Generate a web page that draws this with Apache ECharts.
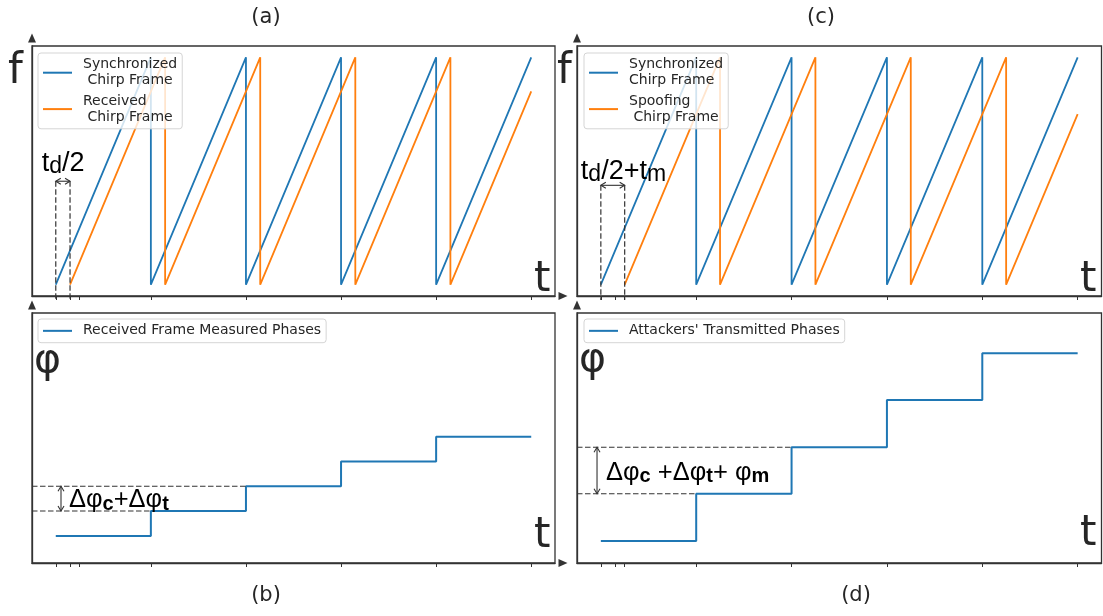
<!DOCTYPE html>
<html><head><meta charset="utf-8">
<script src="https://cdn.jsdelivr.net/npm/echarts@6/dist/echarts.min.js"></script>
<style>html,body{margin:0;padding:0;background:#fff}#c{width:1103px;height:616px}</style>
</head><body><div id="c"></div><script>
// ---- data ----
const tickValues = [0, 0.15, 0.25, 1, 2, 3, 4, 5];
const syncChirp = [[0,0],[1,1],[1,0],[2,1],[2,0],[3,1],[3,0],[4,1],[4,0],[5,1]];
const receivedChirp = [[0.15,0],[1.15,1],[1.15,0],[2.15,1],[2.15,0],[3.15,1],[3.15,0],[4.15,1],[4.15,0],[5,0.85]];
const spoofChirp = [[0.25,0],[1.25,1],[1.25,0],[2.25,1],[2.25,0],[3.25,1],[3.25,0],[4.25,1],[4.25,0],[5,0.75]];
const frameTimes = [0, 1, 2, 3, 4, 5];
const receivedPhases = [1.08, 2.08, 3.07, 4.06, 5.05];
const attackerPhases = [0.88, 2.77, 4.63, 6.52, 8.39];
const panelTitles = ['(a)', '(c)', '(b)', '(d)'];
const seriesNames = ['Synchronized\n Chirp Frame', 'Received\n Chirp Frame', 'Synchronized\nChirp Frame', 'Spoofing\n Chirp Frame', 'Received Frame Measured Phases', "Attackers' Transmitted Phases"];

// ---- style ----
const FONT = 'DejaVu Sans', MATH = 'Liberation Sans';
const INK = '#262626', SPINE = '#333333';
const BLUE = '#1f77b4', ORANGE = '#ff7f0e';
const grids = [
  {left: 32, top: 46, width: 523, height: 250},
  {left: 577, top: 46, width: 524.5, height: 250},
  {left: 32, top: 313, width: 523, height: 250},
  {left: 577, top: 313, width: 524.5, height: 250}
];
const yRanges = [[-0.05, 1.05], [-0.05, 1.05], [0, 10], [0, 10]];
const X_MIN = -0.25, X_MAX = 5.25;

function stepData(phases) {
  return frameTimes.map((t, i) => [t, phases[Math.min(i, phases.length - 1)]]);
}

const chart = echarts.init(document.getElementById('c'), null, {renderer: 'canvas'});

const axisLineStyle = {color: SPINE, width: 1.3};
const xAxes = grids.map((g, i) => ({
  type: 'value', gridIndex: i, min: X_MIN, max: X_MAX,
  axisLine: {show: true, onZero: false, symbol: ['none', 'triangle'], symbolSize: [8, 9], symbolOffset: [0, 8], lineStyle: axisLineStyle},
  axisTick: {show: true, customValues: tickValues, length: 4, inside: false, lineStyle: {color: SPINE, width: 1}},
  axisLabel: {show: false}, splitLine: {show: false}
}));
const yAxes = grids.map((g, i) => ({
  type: 'value', gridIndex: i, min: yRanges[i][0], max: yRanges[i][1],
  axisLine: {show: true, onZero: false, symbol: ['none', 'triangle'], symbolSize: [8, 9], symbolOffset: [0, 8], lineStyle: axisLineStyle},
  axisTick: {show: false}, axisLabel: {show: false}, splitLine: {show: false}
}));

function lineSeries(name, idx, data, color, extra) {
  return Object.assign({
    name: name, type: 'line', xAxisIndex: idx, yAxisIndex: idx, data: data,
    showSymbol: false, symbol: 'none', color: color,
    lineStyle: {color: color, width: 1.8}, silent: true
  }, extra || {});
}

const series = [
  lineSeries(seriesNames[0], 0, syncChirp, BLUE),
  lineSeries(seriesNames[1], 0, receivedChirp, ORANGE),
  lineSeries(seriesNames[2], 1, syncChirp, BLUE),
  lineSeries(seriesNames[3], 1, spoofChirp, ORANGE),
  lineSeries(seriesNames[4], 2, stepData(receivedPhases), BLUE, {step: 'end', lineStyle: {color: BLUE, width: 2}}),
  lineSeries(seriesNames[5], 3, stepData(attackerPhases), BLUE, {step: 'end', lineStyle: {color: BLUE, width: 2}})
];

const legendBase = {
  orient: 'vertical', icon: 'rect', itemWidth: 29, itemHeight: 2, itemGap: 5,
  padding: [4, 5, 4, 5], backgroundColor: 'rgba(255,255,255,0.8)',
  borderColor: '#d5d5d5', borderWidth: 1, borderRadius: 3, selectedMode: false,
  textStyle: {fontFamily: FONT, fontSize: 14, lineHeight: 15.7, color: INK, padding: [0, 0, 0, 6]}
};
const legends = [
  Object.assign({}, legendBase, {data: [seriesNames[0], seriesNames[1]], left: 38, top: 53}),
  Object.assign({}, legendBase, {data: [seriesNames[2], seriesNames[3]], left: 584, top: 53}),
  Object.assign({}, legendBase, {data: [seriesNames[4]], left: 38, top: 319}),
  Object.assign({}, legendBase, {data: [seriesNames[5]], left: 584, top: 319})
];

chart.setOption({
  animation: false,
  backgroundColor: '#ffffff',
  grid: grids.map(g => Object.assign({show: true, borderColor: SPINE, borderWidth: 1.3, backgroundColor: 'transparent'}, g)),
  xAxis: xAxes, yAxis: yAxes, legend: legends, series: series
});

// ---- annotations (anchored through the axes) ----
function px(g, x, y) { return chart.convertToPixel({gridIndex: g}, [x, y]); }
const dash = {stroke: SPINE, lineWidth: 1.2, lineDash: [5.5, 2.5]};
const solid = {stroke: SPINE, lineWidth: 1.1, fill: null};
const g = [];

function seg(p1, p2, style) {
  g.push({type: 'line', shape: {x1: p1[0], y1: p1[1], x2: p2[0], y2: p2[1]}, style: style, z: 50});
}
function doubleArrow(p1, p2) {
  seg(p1, p2, solid);
  const dx = p2[0] - p1[0], dy = p2[1] - p1[1], L = Math.hypot(dx, dy);
  const ux = dx / L, uy = dy / L, nx = -uy, ny = ux, a = 5, w = 3;
  [[p1, 1], [p2, -1]].forEach(([p, s]) => {
    g.push({type: 'polyline', z: 50, shape: {points: [
      [p[0] + s * ux * a + nx * w, p[1] + s * uy * a + ny * w], p,
      [p[0] + s * ux * a - nx * w, p[1] + s * uy * a - ny * w]]}, style: solid});
  });
}
const richStyles = {
  n: {fontFamily: MATH, fontSize: 25.5, lineHeight: 28, color: INK},
  s: {fontFamily: MATH, fontSize: 20, fontWeight: 'bold', lineHeight: 17, verticalAlign: 'bottom', color: INK},
  T: {fontFamily: MATH, fontSize: 27, lineHeight: 30, color: INK},
  r: {fontFamily: MATH, fontSize: 23, lineHeight: 15, verticalAlign: 'bottom', color: INK}
};
function mathText(x, y, text) {
  g.push({type: 'text', z: 60, x: x, y: y, style: {
    text: text, verticalAlign: 'top', align: 'left', rich: richStyles
  }});
}
function plainText(x, y, text, size, align, vAlign) {
  g.push({type: 'text', z: 60, x: x, y: y, style: {text: text, fontFamily: FONT, fontSize: size, fill: INK, align: align, verticalAlign: vAlign}});
}

// (a) and (c): delay markers
const delayArrowLevel = [0.455, 0.437];
[[0, receivedChirp], [1, spoofChirp]].forEach(([gi, shifted], k) => {
  const x0 = syncChirp[0][0], x1 = shifted[0][0];
  const bottom = px(gi, x0, yRanges[gi][0])[1] + 4;
  const a0 = px(gi, x0, delayArrowLevel[k]), a1 = px(gi, x1, delayArrowLevel[k]);
  seg(a0, [a0[0], bottom], dash);
  seg(a1, [a1[0], bottom], dash);
  doubleArrow(a0, a1);
});
const pa = px(0, 0, delayArrowLevel[0]);
mathText(pa[0] - 14, pa[1] - 33, '{T|t}{r|d}{T|/2}');
const pc = px(1, 0, delayArrowLevel[1]);
mathText(pc[0] - 20, pc[1] - 29, '{T|t}{r|d}{T|/2+t}{r|m}');

// (b) and (d): phase step markers
const phaseArrowX = [0.055, -0.04];
[[2, receivedPhases], [3, attackerPhases]].forEach(([gi, ph], k) => {
  const lo = px(gi, X_MIN, ph[1]), loEnd = px(gi, frameTimes[1], ph[1]);
  const hi = px(gi, X_MIN, ph[2]), hiEnd = px(gi, frameTimes[2], ph[2]);
  seg(lo, loEnd, dash);
  seg(hi, hiEnd, dash);
  doubleArrow(px(gi, phaseArrowX[k], ph[2]), px(gi, phaseArrowX[k], ph[1]));
});
const pb = px(2, phaseArrowX[0], receivedPhases[1]);
mathText(pb[0] + 8, pb[1] - 25, '{n|Δφ}{s|c}{n|+Δφ}{s|t}');
const pd = px(3, phaseArrowX[1], attackerPhases[1]);
mathText(pd[0] + 9, pd[1] - 35, '{n|Δφ}{s|c}{n| +Δφ}{s|t}{n|+ φ}{s|m}');

// axis letters
plainText(8, 93, 'f', 42, 'left', 'bottom');
plainText(557, 93, 'f', 42, 'left', 'bottom');
plainText(534, 301, 't', 42, 'left', 'bottom');
plainText(1080, 301, 't', 42, 'left', 'bottom');
plainText(534, 557.5, 't', 42, 'left', 'bottom');
plainText(1080, 555, 't', 42, 'left', 'bottom');
plainText(34, 382, 'φ', 41, 'left', 'bottom');
plainText(579, 381, 'φ', 41, 'left', 'bottom');

// panel titles
plainText(266, 18, panelTitles[0], 21, 'center', 'middle');
plainText(821, 18, panelTitles[1], 21, 'center', 'middle');
plainText(266, 596, panelTitles[2], 21, 'center', 'middle');
plainText(856, 596, panelTitles[3], 21, 'center', 'middle');

chart.setOption({graphic: g});
</script></body></html>
